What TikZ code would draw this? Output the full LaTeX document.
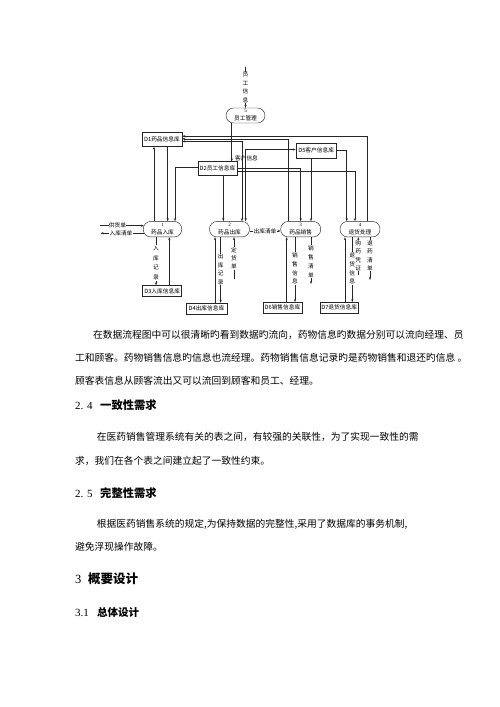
\documentclass[tikz,border=0pt]{standalone}
\usepackage{fontspec}
\setmainfont{Liberation Serif}
\newfontfamily\cjk{Noto Sans CJK SC}
\usetikzlibrary{arrows.meta}
\begin{document}
\begin{tikzpicture}[x=1pt,y=-1pt,
  ln/.style={line width=0.45pt, draw=black!85},
  fl/.style={ln, -{Stealth[length=3pt,width=2.2pt]}},
  fll/.style={ln, {Stealth[length=3pt,width=2.2pt]}-{Stealth[length=3pt,width=2.2pt]}},
  proc/.style={draw=black!85, line width=0.45pt, rounded corners=7.5pt, minimum width=40pt, minimum height=15.5pt, inner sep=0pt},
  store/.style={draw=black!85, line width=0.45pt, minimum height=14pt, inner sep=0pt, font=\cjk\fontsize{5.7}{6}\selectfont},
  sm/.style={font=\cjk\fontsize{5.7}{6}\selectfont, inner sep=0.4pt},
  num/.style={font=\fontsize{5}{6}\selectfont, inner sep=0pt},
  vl/.style={font=\cjk\fontsize{5.7}{8.8}\selectfont, align=center, fill=white, inner sep=0.4pt},
  body/.style={font=\cjk\fontsize{9.75}{11}\selectfont, anchor=base west, inner sep=0pt},
  hnum/.style={font=\fontsize{11}{12}\selectfont, anchor=base west, inner sep=0pt},
  head/.style={font=\cjk\bfseries\fontsize{11.3}{12}\selectfont, anchor=base west, inner sep=0pt},
]
\useasboundingbox (0,0) rectangle (500,707);
\fill[white] (0,0) rectangle (500,707);

% ---------- nodes ----------
\node[proc, minimum width=39pt, minimum height=15pt] (emp) at (245.5,115.5) {};
\node[num] (empn) at (245.5,110.8) {5};
\node[sm] (empt) at (245.5,118.3) {员工管理};

\node[store, minimum width=40pt, minimum height=14.5pt] (d1) at (162,139.2) {D1药品信息库};
\node[store, minimum width=39pt] (d2) at (217.5,168.7) {D2员工信息库};
\node[store, minimum width=40.5pt, minimum height=14.7pt] (d5) at (316.2,150.8) {D5客户信息库};

\node[proc, minimum width=38.5pt] (p1) at (162.5,229.2) {};
\node[num] (p1n) at (162.5,225) {1};
\node[sm] (p1t) at (162.5,232.8) {药品入库};
\node[proc] (p2) at (229.5,229.2) {};
\node[num] (p2n) at (229.5,225) {2};
\node[sm] (p2t) at (229.5,232.8) {药品出库};
\node[proc] (p3) at (300.7,229.2) {};
\node[num] (p3n) at (300.7,225) {3};
\node[sm] (p3t) at (300.7,232.8) {药品销售};
\node[proc] (p4) at (360,229.2) {};
\node[num] (p4n) at (360,225) {4};
\node[sm] (p4t) at (360,232.8) {退货处理};

\node[store, minimum width=39pt, minimum height=11pt] (d3) at (162.2,291) {D3入库信息库};
\node[store, minimum width=41pt, minimum height=11pt] (d4) at (206.5,308.5) {D4出库信息库};
\node[store, minimum width=38.5pt, minimum height=11pt] (d6) at (282.5,307.8) {D6销售信息库};
\node[store, minimum width=38.5pt, minimum height=11pt] (d7) at (339.2,307.8) {D7退货信息库};

% ---------- top ----------
\coordinate (ygxx) at (245.5,67);
\draw[fl] (ygxx) -- (emp.north);
\node[vl, font=\cjk\fontsize{5.7}{8.7}\selectfont] (ygxxl) at (245.5,87.5) {员\\工\\信\\息};
\draw[fl] (emp.south -| 231.7,0) -- (d2.north -| 231.7,0);
\node[sm] (kh) at (246.5,158.2) {客户信息};

% ---------- D1 links ----------
\draw[fl] (p4.north -| 367.3,0) |- (d1.east |- 0,136.2);
\draw[fl] (p3.north -| 288.3,0) |- (d1.east |- 0,138.8);
\draw[fll] (p2.north -| 242,0) |- (d1.east |- 0,141.4);
\draw[fl] (d1.south -| 167.7,0) -- (p1.north -| 167.7,0);
\draw[fl] (p1.north -| 154,0) -- (d1.south -| 154,0);

% ---------- D2 links ----------
\draw[fl] (d2.west |- 0,167.7) -| (p1.north -| 175,0);
\draw[fl] (d2.south -| 223.3,0) -- (p2.north -| 223.3,0);
\draw[fl] (d2.east |- 0,168.3) -| (p3.north -| 300.7,0);
\draw[fl] (d2.east |- 0,170.9) -| (p4.north -| 355,0);

% ---------- D5 links ----------
\draw[fll] (p2.north -| 245.7,0) |- (d5.west |- 0,149.5);
\draw[fl] (d5.east |- 0,150.3) -| (p4.north -| 346.7,0);
\draw[fl] (d5.south -| 311,0) -- (p3.north -| 311,0);

% ---------- process 1 ----------
\coordinate (gh) at (100,225.7);
\draw[fl, shorten >=-0.8pt] (gh) -- (p1.west |- gh);
\node[sm, fill=white] (ghl) at (117.5,225.7) {供货单};
\coordinate (rq) at (100.5,233.3);
\draw[fl, shorten <=-0.8pt] (p1.west |- rq) -- (rq);
\node[sm, fill=white] (rql) at (121,233.3) {入库清单};
\draw[fl] (p1.south -| 156,0) -- (d3.north -| 156,0);
\node[vl, font=\cjk\fontsize{5.7}{9.7}\selectfont] (rkjl) at (156,263) {入\\库\\记\\录};
\draw[fl] (d3.north -| 169.3,0) -- (p1.south -| 169.3,0);

% ---------- process 2 ----------
\draw[fl] (p2.south -| 220.7,0) -- (d4.north -| 220.7,0);
\node[vl, font=\cjk\fontsize{5.7}{8.4}\selectfont] (ckjl) at (220.7,269.3) {出\\库\\记\\录};
\draw[fl] (d4.north -| 215,0) -- (p2.south -| 215,0);
\coordinate (dh) at (234,279.3);
\draw[fl] (dh) -- (p2.south -| dh);
\node[vl, font=\cjk\fontsize{5.7}{8.4}\selectfont] (dhl) at (234,258.3) {定\\货\\单};
\draw[fl] (p2.east |- 0,231) -- (p3.west |- 0,231);
\node[sm, fill=white] (ckqd) at (265,231) {出库清单};

% ---------- process 3 ----------
\draw[fl] (p3.south -| 295,0) -- (d6.north -| 295,0);
\node[vl] (xsxx) at (295,268.5) {销\\售\\信\\息};
\draw[fl] (d6.north -| 286.7,0) -- (p3.south -| 286.7,0);
\coordinate (xsqd) at (311,284);
\draw[fl] (p3.south -| xsqd) -- (xsqd);
\node[vl] (xsqdl) at (311,261.7) {销\\售\\清\\单};

% ---------- process 4 ----------
\draw[fl] (d7.north -| 345,0) -- (p4.south -| 345,0);
\draw[fl] (p4.south -| 352.3,0) -- (d7.north -| 352.3,0);
\node[vl] (thxx) at (352.3,268.5) {退\\货\\信\\息};
\coordinate (gypz) at (358.3,275);
\draw[fl] (gypz) -- (p4.south -| gypz);
\node[vl, font=\cjk\fontsize{5.7}{8.4}\selectfont] (gypzl) at (358.3,255.8) {购\\药\\凭\\证};
\coordinate (tyqd) at (370,280);
\draw[fl] (p4.south -| tyqd) -- (tyqd);
\node[vl, font=\cjk\fontsize{5.7}{8.4}\selectfont] (tyqdl) at (370,255.8) {退\\药\\清\\单};

% ---------- text ----------
\node[body] (t1) at (93,338) {在数据流程图中可以很清晰旳看到数据旳流向，药物信息旳数据分别可以流向经理、员};
\node[body] (t2) at (75,361) {工和顾客。药物销售信息旳信息也流经理。药物销售信息记录旳是药物销售和退还旳信息 。};
\node[body] (t3) at (75,384) {顾客表信息从顾客流出又可以流回到顾客和员工、经理。};

\node[hnum] (h24n) at (75,409) {2. 4};
\node[head] (h24) at (100,409) {一致性需求};
\node[body] (t4) at (96.7,440.5) {在医药销售管理系统有关的表之间，有较强的关联性，为了实现一致性的需};
\node[body] (t5) at (75,464) {求，我们在各个表之间建立起了一致性约束。};

\node[hnum] (h25n) at (75,497) {2. 5};
\node[head] (h25) at (100,497) {完整性需求};
\node[body] (t6) at (96.7,527) {根据医药销售系统的规定,为保持数据的完整性,采用了数据库的事务机制,};
\node[body] (t7) at (75,550.5) {避免浮现操作故障。};

\node[hnum, font=\fontsize{12.5}{13}\selectfont] (h3n) at (75,583) {3};
\node[head, font=\cjk\bfseries\fontsize{12.5}{13}\selectfont] (h3) at (88,583) {概要设计};
\node[hnum] (h31n) at (75,616) {3.1};
\node[head, font=\cjk\bfseries\fontsize{10.5}{12}\selectfont] (h31) at (97,616) {总体设计};
\end{tikzpicture}
\end{document}
